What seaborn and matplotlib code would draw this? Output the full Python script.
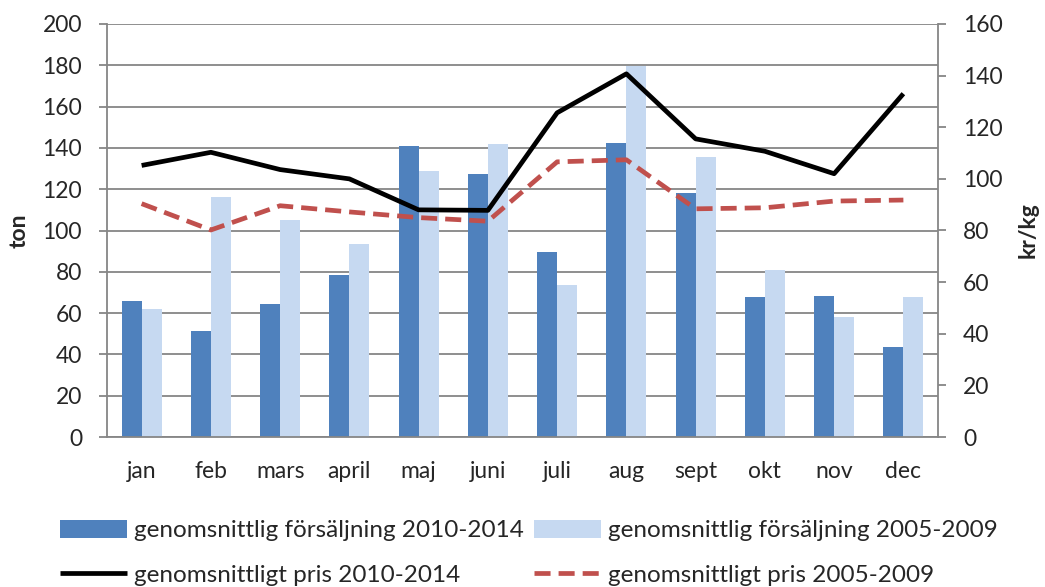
"""Försäljning och pris per månad, stapel + linje med två y-axlar."""
import matplotlib
matplotlib.use("Agg")
import matplotlib.pyplot as plt
import numpy as np
import pandas as pd
import seaborn as sns

MONTHS = ["jan", "feb", "mars", "april", "maj", "juni", "juli", "aug", "sept", "okt", "nov", "dec"]
SALES_2010_2014 = [66, 51.5, 64.5, 78.5, 141, 127.5, 89.5, 142.5, 118, 68, 68.3, 43.7]
SALES_2005_2009 = [62, 116, 105, 93.5, 129, 142, 73.5, 179.5, 135.5, 81, 58, 68]
PRICE_2010_2014 = [105.2, 110.3, 103.6, 100, 88, 87.8, 125.6, 140.7, 115.5, 110.7, 102, 133]
PRICE_2005_2009 = [90.4, 80.2, 89.6, 87.2, 85, 83.6, 106.6, 107.4, 88.4, 88.8, 91.4, 91.8]

LBL_S1 = "genomsnittlig försäljning 2010-2014"
LBL_S2 = "genomsnittlig försäljning 2005-2009"
LBL_P1 = "genomsnittligt pris 2010-2014"
LBL_P2 = "genomsnittligt pris 2005-2009"

DARK_BLUE = "#4F81BD"
LIGHT_BLUE = "#C6D9F1"
RED = "#C0504D"
GRAY = "#868686"

sns.set_style("white")
plt.rcParams["font.family"] = ["Lato", "DejaVu Sans"]
plt.rcParams["font.size"] = 16.5

sales = pd.DataFrame({
    "month": MONTHS * 2,
    "ton": SALES_2010_2014 + SALES_2005_2009,
    "serie": [LBL_S1] * 12 + [LBL_S2] * 12,
})
prices = pd.DataFrame({
    "pos": np.arange(len(MONTHS)),
    "p1": PRICE_2010_2014,
    "p2": PRICE_2005_2009,
})

fig = plt.figure(figsize=(10.45, 5.87), dpi=100)
ax = fig.add_axes([107 / 1045, 1 - 437 / 587, 831 / 1045, 413 / 587])

sns.barplot(data=sales, x="month", y="ton", hue="serie", order=MONTHS,
            palette=[DARK_BLUE, LIGHT_BLUE], width=0.578, gap=0, saturation=1,
            linewidth=0, ax=ax, legend=True)
ax.set_xlim(-0.5, len(MONTHS) - 0.5)
ax.set_ylim(0, 200)
ax.set_yticks(np.arange(0, 201, 20))
ax.yaxis.grid(True, color=GRAY, linewidth=1.3)
ax.set_axisbelow(True)
ax.set_xlabel("")
ax.set_ylabel("ton", fontweight="bold", labelpad=9)
ax.set_xticks(np.arange(len(MONTHS)))
ax.set_xticklabels(MONTHS)
ax.set_xticks(np.arange(-0.5, len(MONTHS)), minor=True)
ax.tick_params(axis="x", which="major", length=0, pad=17)
ax.tick_params(axis="x", which="minor", length=7, width=1.3, color=GRAY, direction="out")
ax.tick_params(axis="y", length=6, width=1.3, color=GRAY, direction="out", left=True, pad=12)
for side in ["left", "bottom", "right"]:
    ax.spines[side].set_color(GRAY)
    ax.spines[side].set_linewidth(1.3)
ax.spines["top"].set_visible(False)
bar_handles, bar_labels = ax.get_legend_handles_labels()
ax.get_legend().remove()

ax2 = ax.twinx()
sns.lineplot(data=prices, x="pos", y="p1", color="black", linewidth=3.4,
             ax=ax2, label=LBL_P1, solid_capstyle="butt")
sns.lineplot(data=prices, x="pos", y="p2", color=RED, linewidth=3.4,
             linestyle=(0, (3.4, 1.7)), ax=ax2, label=LBL_P2)
ax2.set_ylim(0, 160)
ax2.set_yticks(np.arange(0, 161, 20))
ax2.set_xlim(-0.5, len(MONTHS) - 0.5)
ax2.set_xlabel("")
ax2.set_ylabel("kr/kg", fontweight="bold", labelpad=11, rotation=90)
ax2.tick_params(axis="y", length=6, width=1.3, color=GRAY, direction="out", right=True, pad=12)
for side in ["left", "bottom", "right", "top"]:
    ax2.spines[side].set_visible(False)
line_handles, line_labels = ax2.get_legend_handles_labels()
ax2.get_legend().remove()

handles = [bar_handles[0], line_handles[0], bar_handles[1], line_handles[1]]
labels = [bar_labels[0], line_labels[0], bar_labels[1], line_labels[1]]
fig.legend(handles, labels, ncol=2, frameon=False, loc="center left",
           bbox_to_anchor=(60 / 1045, 1 - 553 / 587), handlelength=2.75,
           handleheight=0.75, handletextpad=0.3, columnspacing=0.4,
           labelspacing=0.95, borderpad=0, borderaxespad=0, fontsize=17.5)

fig.savefig("out.png", dpi=100)
